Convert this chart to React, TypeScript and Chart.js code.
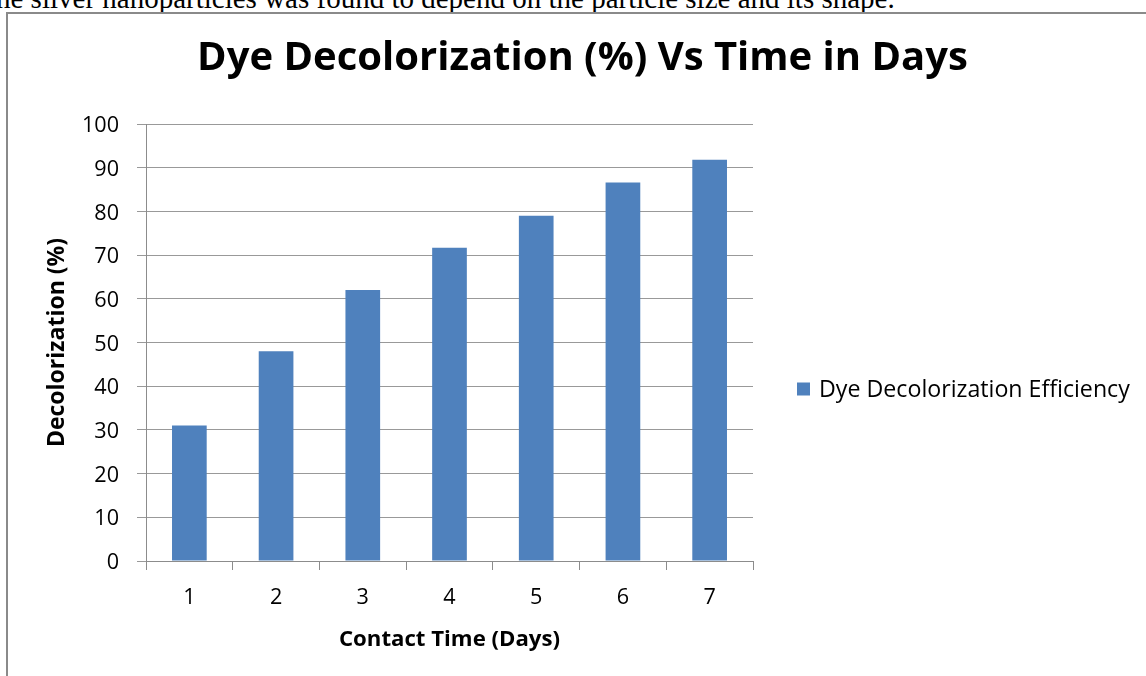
import React, { useEffect, useRef } from 'react';
import { Chart, registerables } from 'chart.js';

Chart.register(...registerables);

// ---- data ----
const categories: string[] = ['1', '2', '3', '4', '5', '6', '7'];
const efficiency: number[] = [31, 48, 62, 71.7, 79, 86.6, 91.8];
const seriesLabel = 'Dye Decolorization Efficiency';
const chartTitle = 'Dye Decolorization (%) Vs Time in Days';
const xAxisTitle = 'Contact Time (Days)';
const yAxisTitle = 'Decolorization (%)';
const yMin = 0;
const yMax = 100;
const yStep = 10;
const captionText = 'he silver nanoparticles was found to depend on the particle size and its shape.';

// ---- layout / style ----
const W = 1146;
const H = 676;
const FONT = '"Open Sans", Lato, "DejaVu Sans", sans-serif';
const leftPad = 19;
const plotLeft = 146;
const plotRight = 753;
const plotTop = 124;
const plotBottom = 561;
const legendBox = 13;
const legendGapLeft = 44;
const legendCenterY = 389;
const barColor = '#4f81bd';
const gridColor = '#999999';
const axisColor = '#8c8c8c';

function fitSize(text: string, weight: string, target: number): number {
  const c = document.createElement('canvas').getContext('2d')!;
  c.font = `${weight} 100px ${FONT}`;
  const w = c.measureText(text).width;
  return Math.round((100 * target) / w * 10) / 10;
}

export default function App() {
  const canvasRef = useRef<HTMLCanvasElement | null>(null);

  useEffect(() => {
    const canvas = canvasRef.current;
    if (!canvas) return;

    const titleSize = fitSize(chartTitle, 'bold', 771);
    const legendSize = fitSize(seriesLabel, 'normal', 311);
    const xTitleSize = fitSize(xAxisTitle, 'bold', 221);
    const yTitleSize = fitSize(yAxisTitle, 'bold', 209);
    const tickSize = fitSize('100', 'normal', 37);

    const titleMid = 58.5;
    const titleTop = titleMid - 0.6 * titleSize;
    const titleBottom = plotTop - titleTop - 1.2 * titleSize;

    const xTickPad = 598 - plotBottom - 9 - 0.6 * tickSize;
    const xTitlePadBottom = H - 639.5 - 0.6 * xTitleSize;
    const yTitlePadTop = 57 - leftPad - 0.6 * yTitleSize;

    const sideLegend = {
      id: 'sideLegend',
      afterDraw(chart: any) {
        const { ctx, chartArea } = chart;
        const ds = chart.data.datasets[0];
        const x = chartArea.right + legendGapLeft;
        ctx.save();
        ctx.fillStyle = ds.backgroundColor;
        ctx.fillRect(x, legendCenterY - legendBox / 2, legendBox, legendBox);
        ctx.fillStyle = '#000';
        ctx.font = `normal ${legendSize}px ${FONT}`;
        ctx.textBaseline = 'middle';
        ctx.textAlign = 'left';
        ctx.fillText(ds.label, x + legendBox + 9, legendCenterY + 1.5);
        ctx.restore();
      },
    };

    const chart = new Chart(canvas, {
      type: 'bar',
      data: {
        labels: categories,
        datasets: [
          {
            label: seriesLabel,
            data: efficiency,
            backgroundColor: barColor,
            borderWidth: 0,
            barPercentage: 0.4,
            categoryPercentage: 1.0,
            yAxisID: 'y',
          },
        ],
      },
      plugins: [sideLegend],
      options: {
        responsive: false,
        animation: false,
        layout: { padding: { left: leftPad, top: 0, right: 0, bottom: 0 } },
        plugins: {
          title: {
            display: true,
            text: chartTitle,
            color: '#000',
            font: { family: FONT, size: titleSize, weight: 'bold' },
            padding: { top: titleTop, bottom: titleBottom },
          },
          legend: { display: false },
          tooltip: { enabled: false },
        },
        scales: {
          x: {
            offset: true,
            grid: {
              display: true,
              drawOnChartArea: false,
              drawTicks: true,
              tickLength: 9,
              color: axisColor,
              offset: true,
            },
            border: { display: true, color: axisColor, width: 1 },
            ticks: {
              color: '#000',
              padding: xTickPad,
              font: { family: FONT, size: tickSize },
            },
            title: {
              display: true,
              text: xAxisTitle,
              color: '#000',
              font: { family: FONT, size: xTitleSize, weight: 'bold' },
              padding: { top: 0, bottom: xTitlePadBottom },
            },
            afterFit: (scale: any) => {
              scale.height = H - plotBottom;
            },
          },
          y: {
            position: 'left',
            min: yMin,
            max: yMax,
            grid: {
              display: true,
              drawOnChartArea: true,
              drawTicks: true,
              tickLength: 9,
              color: gridColor,
            },
            border: { display: true, color: axisColor, width: 1 },
            ticks: {
              stepSize: yStep,
              color: '#000',
              padding: 18,
              labelOffset: 2,
              font: { family: FONT, size: tickSize },
            },
            title: {
              display: true,
              text: yAxisTitle,
              color: '#000',
              font: { family: FONT, size: yTitleSize, weight: 'bold' },
              padding: { top: yTitlePadTop, bottom: 0 },
            },
            afterFit: (scale: any) => {
              scale.width = plotLeft - leftPad;
            },
          },
          legendSpace: {
            type: 'linear',
            position: 'right',
            display: true,
            min: yMin,
            max: yMax,
            grid: { display: false, drawTicks: false },
            border: { display: false },
            ticks: { display: false },
            afterFit: (scale: any) => {
              scale.width = W - plotRight;
            },
          },
        },
      },
    });

    return () => {
      chart.destroy();
    };
  }, []);

  return (
    <div
      style={{
        position: 'absolute',
        left: 0,
        top: 0,
        width: W,
        height: H,
        overflow: 'hidden',
        background: '#fff',
      }}
    >
      <div
        style={{
          position: 'absolute',
          left: -4,
          top: -16,
          whiteSpace: 'nowrap',
          fontFamily: '"Liberation Serif", "Times New Roman", serif',
          fontSize: 29,
          lineHeight: 1,
          color: '#000',
        }}
      >
        {captionText}
      </div>
      <div
        style={{
          position: 'absolute',
          left: 6,
          top: 12,
          width: 1300,
          height: 800,
          border: '2px solid #8a8a8a',
          boxSizing: 'border-box',
        }}
      />
      <canvas
        ref={canvasRef}
        width={W}
        height={H}
        style={{ position: 'absolute', left: 0, top: 0, width: W, height: H }}
      />
    </div>
  );
}
